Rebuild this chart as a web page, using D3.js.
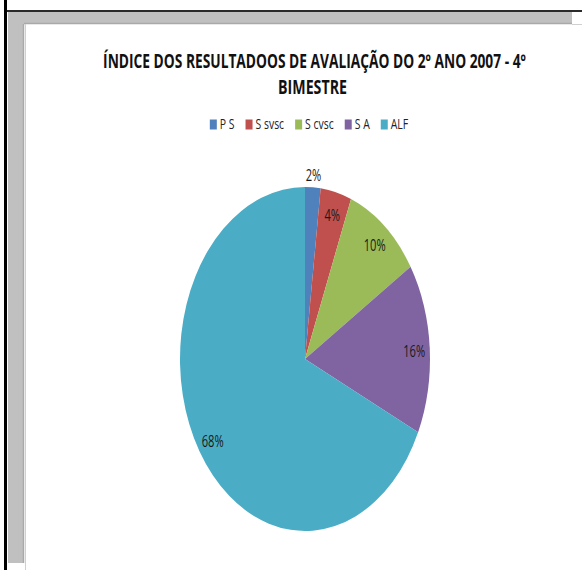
<!DOCTYPE html>
<html>
<head>
<meta charset="utf-8">
<script src="https://cdn.jsdelivr.net/npm/d3@7"></script>
<style>
  html, body { margin: 0; padding: 0; background: #fff; }
  svg { display: block; }
  text { font-family: "Open Sans", "DejaVu Sans", sans-serif; }
</style>
</head>
<body>
<svg id="chart" width="582" height="570"></svg>
<script>
// ---- data ----
const titleLines = ["ÍNDICE DOS RESULTADOOS DE AVALIAÇÃO DO 2º ANO 2007 - 4º", "BIMESTRE"];
const categories = ["P S", "S svsc", "S cvsc", "S A", "ALF"];
const values = [2, 4, 10, 16, 68];
const colors = ["#4F81BD", "#C0504D", "#9BBB59", "#8064A2", "#4BACC6"];

const svg = d3.select("#chart");
const W = 582, H = 570;
const squish = 0.72;

// ---- frame (screenshot border) ----
svg.append("rect").attr("x", 0).attr("y", 0).attr("width", W).attr("height", H).attr("fill", "#fff");
svg.append("rect").attr("x", 8).attr("y", 12).attr("width", 564).attr("height", 12).attr("fill", "#c0c0c0");
svg.append("rect").attr("x", 8).attr("y", 12).attr("width", 16).attr("height", 551).attr("fill", "#c0c0c0");
svg.append("line").attr("x1", 24).attr("x2", 572).attr("y1", 23.5).attr("y2", 23.5).attr("stroke", "#a9a9a9").attr("stroke-width", 1.5);
svg.append("line").attr("x1", 23.5).attr("x2", 23.5).attr("y1", 24).attr("y2", 563).attr("stroke", "#a9a9a9").attr("stroke-width", 1.5);
svg.append("line").attr("x1", 25.5).attr("x2", 25.5).attr("y1", 24).attr("y2", H).attr("stroke", "#d0d0d0").attr("stroke-width", 1);
svg.append("line").attr("x1", 572).attr("x2", W).attr("y1", 24.5).attr("y2", 24.5).attr("stroke", "#d0d0d0").attr("stroke-width", 1);
svg.append("rect").attr("x", 4).attr("y", 0).attr("width", 3).attr("height", H).attr("fill", "#000");
svg.append("rect").attr("x", 7).attr("y", 10).attr("width", W - 7).attr("height", 2).attr("fill", "#2a2a2a");

// ---- title (fitted by horizontal scale) ----
function fittedText(parent, str, x, y, targetW, size) {
  const t = parent.append("text")
    .attr("text-anchor", "middle")
    .attr("font-size", size).attr("font-weight", "bold").attr("fill", "#111")
    .text(str);
  const w = t.node().getComputedTextLength();
  t.attr("transform", `translate(${x},${y}) scale(${targetW / w},1)`);
  return t;
}
const title = svg.append("g");
fittedText(title, titleLines[0], 314.5, 67.5, 423, 19);
fittedText(title, titleLines[1], 312.5, 93.5, 69, 19);

// ---- legend ----
const legend = svg.append("g");
const legY = 128.5, sqW = 7, sqH = 10, sqGap = 3, itemGap = 11, legFont = 14.5;
const items = categories.map((c, i) => {
  const g = legend.append("g");
  g.append("rect").attr("width", sqW).attr("height", sqH).attr("y", -sqH + 1).attr("fill", colors[i]);
  const t = g.append("text")
    .attr("font-size", legFont).attr("fill", "#222")
    .attr("transform", `translate(${sqW + sqGap},0) scale(${squish},1)`)
    .text(c);
  const w = t.node().getComputedTextLength() * squish;
  return { g, w: sqW + sqGap + w };
});
const totalW = d3.sum(items, d => d.w) + itemGap * (items.length - 1);
let lx = 309 - totalW / 2;
items.forEach(it => {
  it.g.attr("transform", `translate(${lx},${legY})`);
  lx += it.w + itemGap;
});

// ---- pie ----
const cx = 305, cy = 359, rx = 125, ry = 172, R = 100;
const pie = d3.pie().sort(null).value(d => d)(values);
const arc = d3.arc().innerRadius(0).outerRadius(R);

const pg = svg.append("g").attr("transform", `translate(${cx},${cy}) scale(${rx / R},${ry / R})`);
pg.selectAll("path").data(pie).join("path")
  .attr("d", arc)
  .attr("fill", (d, i) => colors[i]);

const total = d3.sum(values);
svg.append("g").selectAll("text").data(pie).join("text")
  .each(function (d) {
    const f = d.value / total < 0.03 ? 1.08 : 0.875;
    const la = d3.arc().innerRadius(R * f).outerRadius(R * f);
    const [px, py] = la.centroid(d);
    const x = cx + px * rx / R, y = cy + py * ry / R;
    d3.select(this)
      .attr("transform", `translate(${x},${y + 2}) scale(${squish},1)`)
      .attr("text-anchor", "middle")
      .attr("dy", "0.36em")
      .attr("font-size", 15.5)
      .attr("fill", "#1a1a1a")
      .text(Math.round(d.value / total * 100) + "%");
  });
</script>
</body>
</html>
